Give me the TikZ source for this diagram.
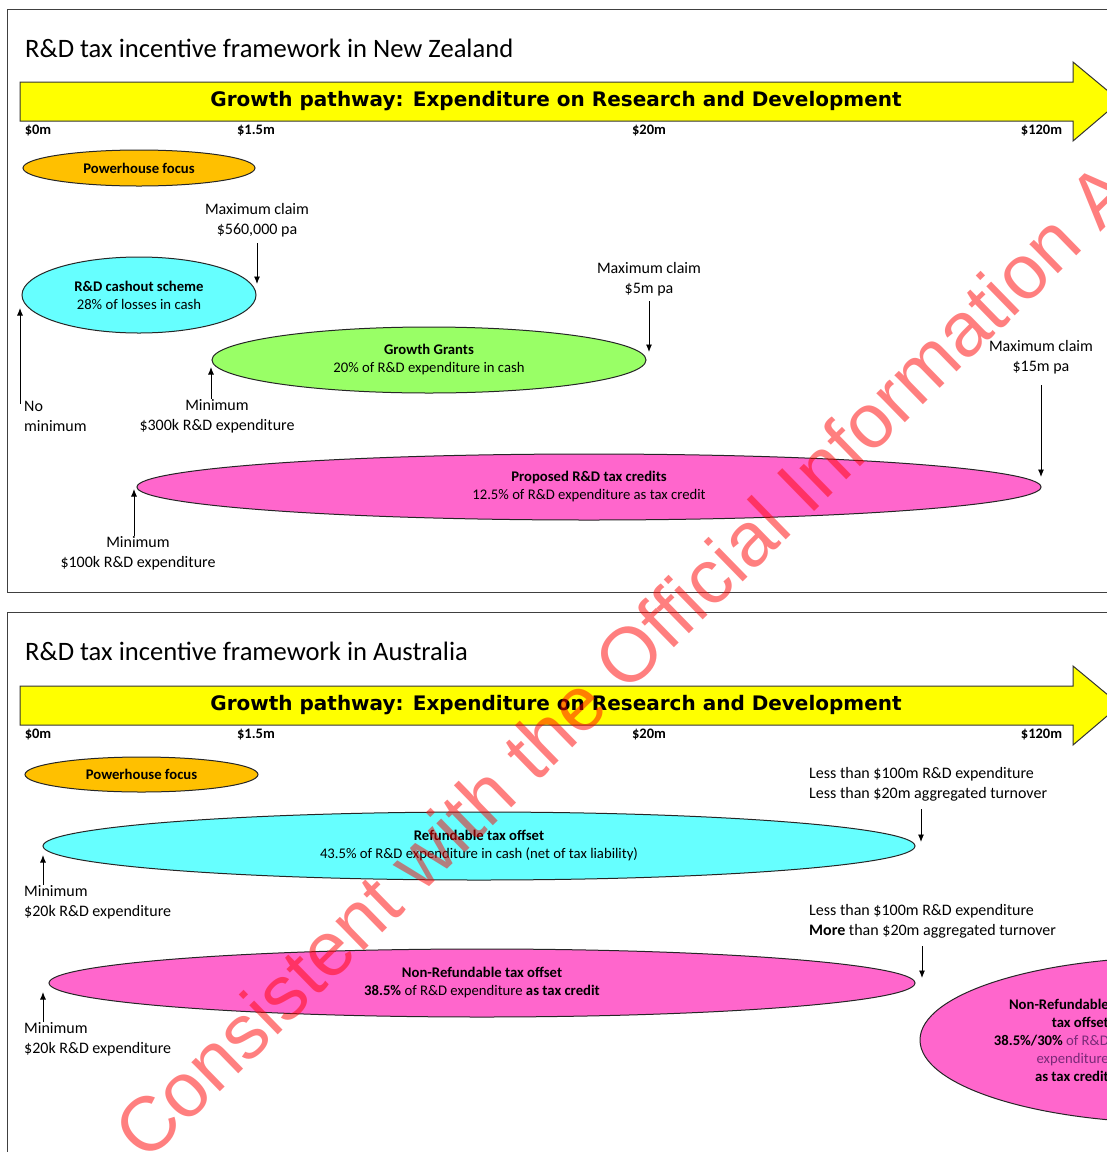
\documentclass[tikz,border=0pt]{standalone}
\usepackage{fontspec}
\setmainfont{Carlito}
\newfontfamily\arrowfont{DejaVu Sans}
\newfontfamily\wmfont{Liberation Sans}
\usetikzlibrary{shapes.geometric,arrows.meta}
\definecolor{hlyellow}{HTML}{FFFF00}
\definecolor{phorange}{HTML}{FFC000}
\definecolor{cashcyan}{HTML}{66FFFF}
\definecolor{grgreen}{HTML}{99FF66}
\definecolor{taxpink}{HTML}{FF66CC}
\definecolor{framegray}{HTML}{404040}
\definecolor{inkpurple}{HTML}{7A2A78}
\tikzset{
  panel/.style={draw=framegray, line width=1pt},
  growarrow/.style={draw=black!80, fill=hlyellow, line width=1pt, line join=miter},
  arrowtitle/.style={font=\arrowfont\bfseries\fontsize{20}{22}\selectfont, inner sep=0},
  paneltitle/.style={font=\fontsize{26.6}{30}\selectfont, inner sep=0, anchor=west},
  axislbl/.style={font=\bfseries\fontsize{14.5}{16}\selectfont, inner sep=0},
  blob/.style={ellipse, draw=black!85, line width=1pt, inner sep=0, align=center, font=\fontsize{14.7}{18}\selectfont},
  blobtext/.style={inner sep=0, font=\fontsize{14.7}{18}\selectfont},
  note/.style={inner sep=0, font=\fontsize{16}{20}\selectfont},
  pointer/.style={-{Latex[length=7.5pt,width=6pt]}, line width=0.9pt, black},
  wmark/.style={font=\wmfont\fontsize{77}{77}\selectfont, text=red, text opacity=0.5, inner sep=0}
}
\begin{document}
\begin{tikzpicture}[x=1pt,y=-1pt]
\useasboundingbox (0,0) rectangle (1107,1152);
\clip (0,0) rectangle (1107,1152);
\fill[white] (0,0) rectangle (1107,1152);

% ================= New Zealand panel =================
\draw[panel] (7,9) rectangle (1140,592);
\node[paneltitle] (nztitle) at (25,48) {R\&D tax incentive framework in New Zealand};
\draw[growarrow] (20,82) -- (1073,82) -- (1073,62) -- (1120,101) -- (1073,141) -- (1073,121) -- (20,121) -- cycle;
\node[arrowtitle] (nzarrowtxt) at (556,101) {Growth pathway: Expenditure on Research and Development};
\node[axislbl] (nza0) at (38,131) {\$0m};
\node[axislbl] (nza1) at (256,131) {\$1.5m};
\node[axislbl] (nza2) at (649,131) {\$20m};
\node[axislbl] (nza3) at (1041.5,131) {\$120m};

\node[blob, fill=phorange, minimum width=232pt, minimum height=36pt] (nzpower) at (139,168) {\textbf{Powerhouse focus}};

\node[note, align=center] (mc1) at (257,220) {Maximum claim\\\$560,000 pa};
\node[blob, fill=cashcyan, minimum width=234pt, minimum height=76pt] (cashout) at (139,295) {\textbf{R\&D cashout scheme}\\28\% of losses in cash};
\coordinate (mc1tip) at (257,284);
\draw[pointer, shorten <=6pt] (mc1.south) -- (mc1tip);

\node[note, align=left, anchor=north west] (nomin) at (24,401) {No\\minimum};
\coordinate (nomintip) at (20,308);
\draw[pointer, shorten <=-3pt] (nomin.north -| nomintip) -- (nomintip);

\node[note, align=center] (mc2) at (649,279) {Maximum claim\\\$5m pa};
\node[blob, fill=grgreen, minimum width=434pt, minimum height=66pt] (growth) at (429,360) {\textbf{Growth Grants}\\20\% of R\&D expenditure in cash};
\coordinate (mc2tip) at (649,352);
\draw[pointer, shorten <=5pt] (mc2.south) -- (mc2tip);

\node[note, align=center] (min1) at (217,416) {Minimum\\\$300k R\&D expenditure};
\coordinate (min1tip) at (211,367);
\draw[pointer] (min1.north -| min1tip) -- (min1tip);

\node[note, align=center] (mc3) at (1041,357) {Maximum claim\\\$15m pa};
\node[blob, fill=taxpink, minimum width=904pt, minimum height=66pt] (proposed) at (589,487) {\textbf{Proposed R\&D tax credits}\\12.5\% of R\&D expenditure as tax credit};
\coordinate (mc3tip) at (1041,477);
\draw[pointer, shorten <=11pt] (mc3.south) -- (mc3tip);

\node[note, align=center] (min2) at (138,553) {Minimum\\\$100k R\&D expenditure};
\coordinate (min2tip) at (134,489);
\draw[pointer] (min2.north -| min2tip) -- (min2tip);

% ================= Australia panel =================
\draw[panel] (7,612) rectangle (1140,1180);
\node[paneltitle] (autitle) at (25,651) {R\&D tax incentive framework in Australia};
\draw[growarrow] (20,686) -- (1073,686) -- (1073,666) -- (1120,705) -- (1073,745) -- (1073,725) -- (20,725) -- cycle;
\node[arrowtitle] (auarrowtxt) at (556,705) {Growth pathway: Expenditure on Research and Development};
\node[axislbl] (aua0) at (38,735) {\$0m};
\node[axislbl] (aua1) at (256,735) {\$1.5m};
\node[axislbl] (aua2) at (649,735) {\$20m};
\node[axislbl] (aua3) at (1041.5,735) {\$120m};

\node[blob, fill=phorange, minimum width=233pt, minimum height=35pt] (aupower) at (141.5,774.5) {\textbf{Powerhouse focus}};

\node[note, align=left, anchor=west] (lt1) at (809,784) {Less than \$100m R\&D expenditure\\Less than \$20m aggregated turnover};
\node[blob, fill=cashcyan, minimum width=872pt, minimum height=68pt] (refund) at (479,846) {\textbf{Refundable tax offset}\\43.5\% of R\&D expenditure in cash (net of tax liability)};
\coordinate (lt1tip) at (921,842);
\draw[pointer, shorten <=8pt] (lt1.south -| lt1tip) -- (lt1tip);

\node[note, align=left, anchor=west] (min3) at (24,902) {Minimum\\\$20k R\&D expenditure};
\coordinate (min3tip) at (43,855);
\draw[pointer] (min3.north -| min3tip) -- (min3tip);

\node[note, align=left, anchor=west] (lt2) at (809,921) {Less than \$100m R\&D expenditure\\\textbf{More} than \$20m aggregated turnover};
\node[blob, fill=taxpink, minimum width=866pt, minimum height=68pt] (nonref) at (482,983) {\textbf{Non-Refundable tax offset}\\\textbf{38.5\%} of R\&D expenditure \textbf{as tax credit}};
\coordinate (lt2tip) at (922,978);
\draw[pointer, shorten <=8pt] (lt2.south -| lt2tip) -- (lt2tip);

\node[note, align=left, anchor=west] (min4) at (24,1039) {Minimum\\\$20k R\&D expenditure};
\coordinate (min4tip) at (43,992);
\draw[pointer] (min4.north -| min4tip) -- (min4tip);

\node[blob, fill=taxpink, minimum width=520pt, minimum height=166pt] (nrbig) at (1180,1040) {};
\node[blobtext, align=right, anchor=east] (nrbigtext) at (1109,1040) {\textbf{Non-Refundable}\\\textbf{tax offset}\\\textbf{38.5\%/30\%} \textcolor{inkpurple}{of R\&D}\\\textcolor{inkpurple}{expenditure}\\\textbf{as tax credit}};

% ================= watermark =================
\node[wmark, rotate=44.3, anchor=base west] (wm) at (146,1164) {Consistent with the Official Information Act};
\end{tikzpicture}
\end{document}
